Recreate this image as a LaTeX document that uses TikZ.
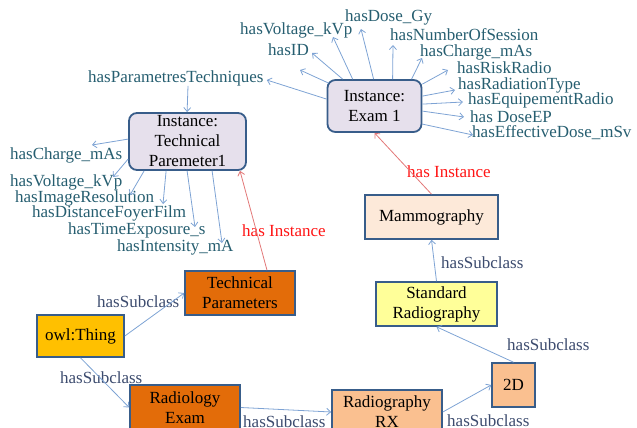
\documentclass[tikz,border=0pt]{standalone}
\usepackage{fontspec}
\setmainfont{Liberation Serif}
\usetikzlibrary{arrows.meta}
\definecolor{arrblue}{RGB}{126,163,212}
\definecolor{lblteal}{RGB}{38,94,112}
\definecolor{subc}{RGB}{60,75,110}
\definecolor{redline}{RGB}{226,120,120}
\definecolor{redtxt}{RGB}{255,20,20}
\definecolor{bord}{RGB}{56,93,138}
\definecolor{lav}{RGB}{230,224,236}
\definecolor{dorange}{RGB}{227,108,9}
\definecolor{lorange}{RGB}{250,192,144}
\definecolor{mamfill}{RGB}{253,233,217}
\definecolor{sryellow}{RGB}{255,255,153}
\definecolor{gold}{RGB}{255,192,0}
\tikzset{
  every node/.style={font=\fontsize{17}{20}\selectfont},
  cls/.style={draw=bord, line width=1.6pt, align=center, inner sep=0pt, text=black},
  inst/.style={cls, rounded corners=8pt, fill=lav, line width=1.8pt},
  lbl/.style={inner sep=0pt, anchor=west, text=lblteal},
  sublbl/.style={inner sep=0pt, anchor=west, text=subc},
  redlbl/.style={inner sep=0pt, anchor=west, text=redtxt},
  arr/.style={draw=arrblue, line width=0.8pt, -{Straight Barb[length=4pt,width=7pt]}},
  redarr/.style={draw=redline, line width=0.8pt, -{Straight Barb[length=4pt,width=7pt]}}
}
\begin{document}
\begin{tikzpicture}[x=1pt,y=1pt]
\useasboundingbox (0,0) rectangle (637,-428);

% nodes
\node[inst, minimum width=94pt, minimum height=52pt] (exam) at (374.5,-106) {Instance:\\Exam 1};
\node[inst, minimum width=117pt, minimum height=57pt] (tp1) at (187.5,-141.5) {Instance:\\Technical\\Paremeter1};
\node[cls, fill=dorange, minimum width=110pt, minimum height=44pt] (tp) at (240,-293) {Technical\\Parameters};
\node[cls, fill=gold, minimum width=87pt, minimum height=42pt] (owl) at (80.5,-336) {owl:Thing};
\node[cls, fill=dorange, minimum width=110pt, minimum height=45pt] (re) at (185,-407.5) {Radiology\\Exam};
\node[cls, fill=lorange, minimum width=110pt, minimum height=44pt] (rx) at (387,-412) {Radiography\\RX};
\node[cls, fill=lorange, minimum width=43pt, minimum height=44pt] (twod) at (513.5,-385) {2D};
\node[cls, fill=sryellow, minimum width=121pt, minimum height=44pt] (sr) at (436.5,-304) {Standard\\Radiography};
\node[cls, fill=mamfill, minimum width=133pt, minimum height=44pt] (mam) at (431.5,-217) {Mammography};

% exam property labels
\node[lbl] (dose) at (345,-17) {hasDose\_Gy};
\node[lbl] (volt) at (240,-30) {hasVoltage\_kVp};
\node[lbl] (nos) at (390,-35) {hasNumberOfSession};
\node[lbl] (id) at (268,-50) {hasID};
\node[lbl] (chg) at (420,-52) {hasCharge\_mAs};
\node[lbl] (risk) at (457,-68) {hasRiskRadio};
\node[lbl] (hpt) at (88,-78) {hasParametresTechniques};
\node[lbl] (rad) at (458,-85) {hasRadiationType};
\node[lbl] (equip) at (468,-100) {hasEquipementRadio};
\node[lbl] (doseep) at (470,-117) {has DoseEP};
\node[lbl] (eff) at (472,-133) {hasEffectiveDose\_mSv};
\coordinate (blank) at (300,-70);

% technical parameter labels
\node[lbl] (chg2) at (10,-155) {hasCharge\_mAs};
\node[lbl] (volt2) at (10,-182) {hasVoltage\_kVp};
\node[lbl] (imgres) at (15,-198) {hasImageResolution};
\node[lbl] (dff) at (32,-213) {hasDistanceFoyerFilm};
\node[lbl] (tes) at (68,-230) {hasTimeExposure\_s};
\node[lbl] (intens) at (117,-247) {hasIntensity\_mA};

% subclass labels
\node[sublbl] (s1) at (97,-302) {hasSubclass};
\node[sublbl] (s2) at (60,-378) {hasSubclass};
\node[sublbl] (s3) at (243,-422) {hasSubclass};
\node[sublbl] (s4) at (447,-421) {hasSubclass};
\node[sublbl] (s5) at (507,-345) {hasSubclass};
\node[sublbl] (s6) at (441,-263) {hasSubclass};

% red labels
\node[redlbl] (hi1) at (242,-231) {has Instance};
\node[redlbl] (hi2) at (407,-172) {has Instance};

% exam arrows
\draw[arr] ([shift={(26,0)}]exam.north west) -- ([shift={(93,-7)}]volt.west);
\draw[arr] ([shift={(47,0)}]exam.north west) -- ([shift={(16,-12)}]dose.west);
\draw[arr] ([shift={(16,0)}]exam.north west) -- ([shift={(44,-3)}]id.west);
\draw[arr] ([shift={(2,-4)}]exam.north west) -- (blank);
\draw[arr] ([shift={(0,-20)}]exam.north west) -- ([shift={(3,-2)}]hpt.east);
\draw[arr] ([shift={(66,0)}]exam.north west) -- ([shift={(3,-10)}]nos.west);
\draw[arr] ([shift={(85,0)}]exam.north west) -- ([shift={(2,-6)}]chg.west);
\draw[arr] ([shift={(0,-5)}]exam.north east) -- ([shift={(-9,-2)}]risk.west);
\draw[arr] ([shift={(0,-17)}]exam.north east) -- ([shift={(-3,-5)}]rad.west);
\draw[arr] ([shift={(0,-25)}]exam.north east) -- ([shift={(-5,-2)}]equip.west);
\draw[arr] ([shift={(0,-32)}]exam.north east) -- ([shift={(-6,0)}]doseep.west);
\draw[arr] ([shift={(0,-45)}]exam.north east) -- ([shift={(1,-2)}]eff.west);

% technical parameter instance arrows
\draw[arr] ([shift={(100,0)}]hpt.south west) -- ([shift={(59,0)}]tp1.north west);
\draw[arr] ([shift={(0,-27)}]tp1.north west) -- ([shift={(82,10)}]chg2.west);
\draw[arr] ([shift={(0,-47)}]tp1.north west) -- ([shift={(103,5)}]volt2.west);
\draw[arr] ([shift={(16,0)}]tp1.south west) -- ([shift={(115,3)}]imgres.west);
\draw[arr] ([shift={(38,0)}]tp1.south west) -- ([shift={(131,9)}]dff.west);
\draw[arr] ([shift={(59,0)}]tp1.south west) -- ([shift={(127,3)}]tes.west);
\draw[arr] ([shift={(84,0)}]tp1.south west) -- ([shift={(105,4)}]intens.west);

% subclass arrows
\draw[arr] (owl.east) -- (tp.west);
\draw[arr] (owl.south) -- (re.west);
\draw[arr] (re.east) -- (rx.west);
\draw[arr] (rx.east) -- (twod.west);
\draw[arr] (twod.north) -- (sr.south);
\draw[arr] (sr.north) -- (mam.south);

% instance arrows
\draw[redarr] ([xshift=27pt]tp.north) -- ([xshift=52.5pt]tp1.south);
\draw[redarr] (mam.north) -- (exam.south);
\end{tikzpicture}
\end{document}
